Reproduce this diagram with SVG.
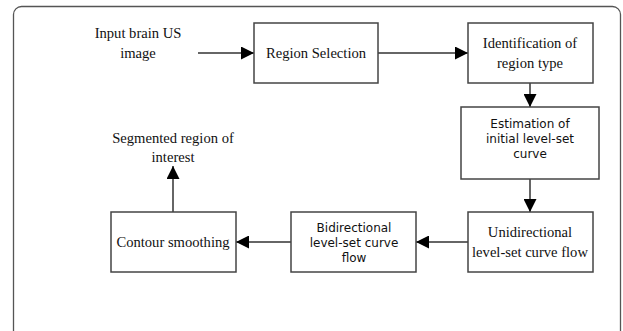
<svg xmlns="http://www.w3.org/2000/svg" width="623" height="331" viewBox="0 0 623 331">
<style>
.box{fill:#fff;stroke:#444;stroke-width:1.5}
.ser{font-family:"Liberation Serif",serif;font-size:14.6px;fill:#111;text-anchor:middle}
.san{font-family:"DejaVu Sans",sans-serif;font-size:12px;fill:#111;text-anchor:middle}
.con{stroke:#333;stroke-width:1.5;fill:none;marker-end:url(#ah)}
</style>
<defs>
<marker id="ah" viewBox="0 0 10 10" refX="10" refY="5" markerWidth="13" markerHeight="13" markerUnits="userSpaceOnUse" orient="auto">
<path d="M0,0 L10,5 L0,10 z" fill="#000"/>
</marker>
</defs>
<rect x="0" y="0" width="623" height="331" fill="#fff"/>
<rect x="13.5" y="6.5" width="607" height="340" rx="8" fill="#fff" stroke="#555" stroke-width="1.3"/>
<g id="connectors">
<line class="con" x1="198" y1="53" x2="254" y2="53"/>
<line class="con" x1="378" y1="53" x2="468" y2="53"/>
<line class="con" x1="530" y1="83" x2="530" y2="107"/>
<line class="con" x1="530" y1="179" x2="530" y2="212"/>
<line class="con" x1="468" y1="242" x2="416" y2="242"/>
<line class="con" x1="291" y1="242" x2="236" y2="242"/>
<line class="con" x1="173" y1="212" x2="173" y2="166"/>
</g>
<g id="input"><text class="ser" x="138" y="38">Input brain US</text><text class="ser" x="138" y="58">image</text></g>
<g id="region-selection"><rect class="box" x="254" y="23" width="124" height="60"/><text class="ser" x="316" y="58">Region Selection</text></g>
<g id="identification"><rect class="box" x="468" y="23" width="125" height="60"/><text class="ser" x="530" y="48">Identification of</text><text class="ser" x="530" y="68">region type</text></g>
<g id="estimation"><rect class="box" x="461" y="107" width="138" height="72"/><text class="san" x="530" y="128">Estimation of</text><text class="san" x="530" y="143">initial level-set</text><text class="san" x="530" y="158">curve</text></g>
<g id="unidirectional"><rect class="box" x="468" y="212" width="125" height="60"/><text class="ser" x="530" y="237">Unidirectional</text><text class="ser" x="530" y="257">level-set curve flow</text></g>
<g id="bidirectional"><rect class="box" x="291" y="212" width="125" height="60"/><text class="san" x="354" y="232">Bidirectional</text><text class="san" x="354" y="247">level-set curve</text><text class="san" x="354" y="262">flow</text></g>
<g id="contour"><rect class="box" x="111" y="212" width="125" height="60"/><text class="ser" x="173" y="247">Contour smoothing</text></g>
<g id="segmented"><text class="ser" x="173" y="143">Segmented region of</text><text class="ser" x="173" y="162">interest</text></g>
</svg>
